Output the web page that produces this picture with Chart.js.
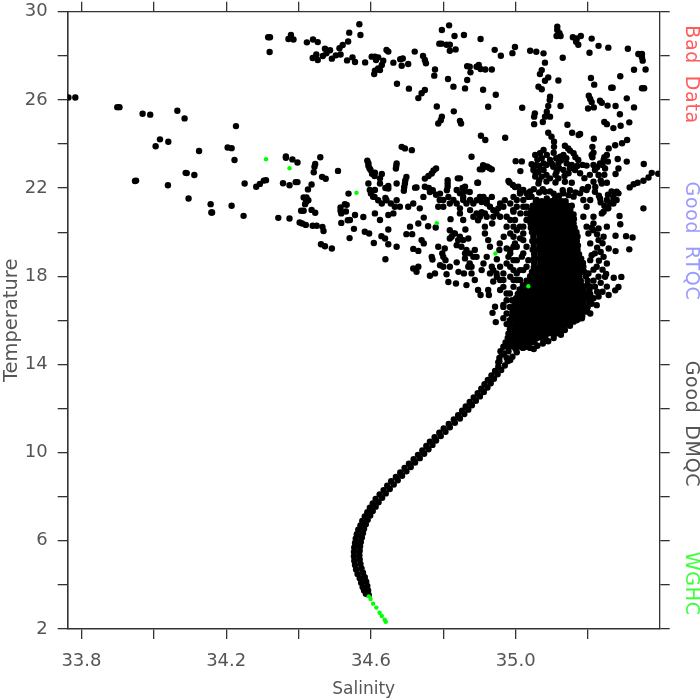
<!DOCTYPE html>
<html>
<head>
<meta charset="utf-8">
<title>Salinity - Temperature</title>
<script src="https://cdn.jsdelivr.net/npm/chart.js@4"></script>
<style>
  html, body { margin: 0; padding: 0; background: #fff; }
  canvas { display: block; }
</style>
</head>
<body>
<canvas id="tsChart" width="700" height="700"></canvas>
<script>
// Tick values and labels
const salinityTicks = [33.8, 34.0, 34.2, 34.4, 34.6, 34.8, 35.0, 35.2];
const salinityLabels = [33.8, 34.2, 34.6, 35.0];
const temperatureTicks = [2, 4, 6, 8, 10, 12, 14, 16, 18, 20, 22, 24, 26, 28, 30];
const temperatureLabels = [2, 6, 10, 14, 18, 22, 26, 30];
const sideLabels = ["Bad Data", "Good RTQC", "Good DMQC", "WGHC"];

// WGHC points [salinity, temperature]
const wghcPoints = [
  [34.310,23.31],[34.375,22.90],[34.560,21.79],[34.782,20.41],[34.944,19.03],[35.035,17.55],
  [34.594,3.48],[34.599,3.36],[34.606,3.15],[34.615,2.97],[34.624,2.74],[34.630,2.59],[34.638,2.42],[34.641,2.33]
];

// Warm, fresh scatter on the left side
const leftScatter = [
  [33.764,26.11],[33.783,26.11],[33.899,25.67],[33.905,25.67],[33.969,25.37],[33.990,25.33],[34.065,25.51],[34.085,25.16],
  [34.227,24.81],[34.005,23.90],[34.017,24.21],[34.040,24.10],[34.125,23.68],[34.204,23.84],[34.215,23.81],[34.223,23.27],
  [33.948,22.32],[33.951,22.34],[34.039,22.13],[34.088,22.69],[34.091,22.68],[34.112,22.59],[34.096,21.53],[34.157,21.27],
  [34.161,20.89],[34.159,20.89],[34.215,21.20],[34.248,20.74],[34.251,22.21],[34.283,22.06],[34.293,22.19],[34.304,22.34],
  [34.310,22.36],[34.344,20.65],[34.375,20.62],[34.357,22.22],[34.375,22.13],[34.392,22.27],[34.397,22.27],[34.365,23.43],
  [34.365,23.37],[34.383,23.30],[34.397,23.16],[34.460,23.40],[34.446,23.09],[34.444,22.97],[34.442,22.72],[34.465,22.51],
  [34.475,22.42],[34.509,22.78],[34.436,22.16],[34.426,21.94],[34.414,21.57],[34.422,21.57],[34.427,21.45],[34.418,21.27],
  [34.421,21.39],[34.407,20.97],[34.414,20.97],[34.436,21.01],[34.446,20.88],[34.403,20.44],[34.410,20.39],[34.420,20.33],
  [34.439,20.29],[34.450,20.29],[34.466,20.24],[34.469,20.05],[34.462,19.45],[34.473,19.36],[34.492,19.26],[34.518,20.42],
  [34.536,20.54],[34.541,19.73],[34.538,21.75],[34.516,21.12],[34.528,21.27],[34.533,21.24],[34.518,20.85],[34.531,20.94],
  [34.516,20.97]
];

// Upper group, above about 24 degrees
const upperScatter = [
  [34.316,28.84],[34.321,28.84],[34.320,28.17],[34.372,28.76],[34.379,28.94],[34.386,28.74],[34.379,28.82],[34.423,28.61],
  [34.440,28.74],[34.453,28.62],[34.439,27.90],[34.449,28.06],[34.453,27.81],[34.473,28.32],[34.487,28.25],[34.467,27.99],
  [34.477,28.11],[34.492,27.87],[34.503,28.02],[34.516,28.06],[34.513,28.34],[34.522,28.49],[34.537,28.65],[34.540,29.05],
  [34.534,27.79],[34.568,29.43],[34.571,28.94],[34.796,29.17],[34.816,29.38],[34.831,28.90],[34.857,28.94],[34.903,28.76],
  [34.789,28.55],[34.795,28.55],[34.809,28.50],[34.818,28.50],[34.818,28.23],[34.834,28.29],[34.942,28.27],[34.959,28.00],
  [34.991,28.12],[34.998,28.40],[35.040,28.23],[35.057,28.18],[35.077,28.11],[35.115,29.32],[35.115,29.17],[35.121,29.02],
  [35.113,28.90],[35.124,28.90],[35.158,28.84],[35.169,28.79],[35.180,28.90],[35.167,28.64],[35.173,28.50],[35.210,28.78],
  [35.229,28.45],[35.256,28.37],[35.310,28.32],[35.204,28.14],[35.339,28.08],[35.349,28.08],[35.349,27.93],[35.351,27.78],
  [35.327,27.37],[35.359,27.38],[35.289,27.07],[35.208,26.99],[35.217,26.69],[35.264,26.55],[35.268,26.55],[35.349,26.53],
  [35.355,26.53],[35.307,26.07],[35.327,25.66],[35.202,26.19],[35.206,26.04],[35.210,25.90],[35.233,25.96],[35.238,25.87],
  [35.254,25.74],[35.276,25.72],[35.288,25.35],[35.200,25.61],[35.216,25.66],[35.314,24.98],[35.290,24.83],[35.270,24.72],
  [35.245,25.00],[35.252,24.90],[35.143,24.87],[35.156,24.51],[35.174,24.41],[35.178,24.45],[35.216,24.24],[35.212,23.87],
  [35.308,24.18],[35.294,24.03],[35.275,23.94],[35.257,23.80],[34.549,27.93],[34.556,27.72],[34.584,27.70],[34.602,27.96],
  [34.611,27.96],[34.620,27.93],[34.614,27.81],[34.634,27.78],[34.630,27.58],[34.620,27.43],[34.611,27.32],[34.609,27.17],
  [34.625,27.35],[34.643,28.26],[34.648,28.19],[34.662,27.69],[34.681,27.84],[34.688,27.88],[34.685,27.55],[34.703,27.63],
  [34.721,28.19],[34.744,27.99],[34.749,27.81],[34.752,27.66],[34.777,27.38],[34.775,27.10],[34.813,26.95],[34.866,26.90],
  [34.860,26.52],[34.828,26.60],[34.910,26.46],[34.945,26.23],[34.866,27.53],[34.873,27.50],[34.875,27.25],[34.892,27.50],
  [34.898,27.58],[34.903,27.40],[34.916,27.38],[34.934,27.38],[34.672,26.73],[34.705,26.51],[34.749,26.45],[34.740,26.30],
  [34.731,26.08],[34.782,25.70],[34.829,25.48],[34.796,25.24],[34.793,25.08],[34.786,24.93],[34.846,25.05],[34.849,24.93],
  [34.924,25.69],[35.018,25.64],[34.904,24.37],[34.916,24.18],[34.971,24.28],[35.081,27.69],[35.130,27.91],[35.072,27.35],
  [35.067,27.17],[35.090,27.02],[35.081,26.87],[35.118,26.88],[35.063,26.60],[35.072,26.48],[35.095,26.14],[35.094,25.99],
  [35.090,25.72],[35.124,25.72],[35.053,25.39],[35.051,25.24],[35.086,25.46],[35.081,25.24],[35.095,25.24],[35.075,25.00],
  [35.051,24.90],[35.090,24.51],[35.099,24.33],[35.106,24.10],[35.106,23.87],[35.136,23.92],[35.145,23.80]
];

// Middle group, salinity 34.55 to 35.0
const middleScatter = [
  [34.685,23.87],[34.694,23.80],[34.713,23.72],[34.590,23.24],[34.593,23.01],[34.599,22.82],[34.611,22.70],[34.630,22.64],
  [34.625,22.44],[34.625,22.21],[34.671,23.12],[34.669,22.89],[34.671,22.21],[34.698,22.50],[34.694,22.21],[34.691,21.88],
  [34.726,22.03],[34.780,22.89],[34.768,22.66],[34.749,22.43],[34.812,22.36],[34.812,22.06],[34.846,22.44],[34.860,22.06],
  [34.896,22.24],[34.910,23.04],[34.901,22.85],[34.934,22.85],[34.922,22.97],[34.878,23.42],[35.000,23.22],[35.017,23.21],
  [35.013,22.77],[34.980,22.32],[34.992,22.14],[34.593,22.21],[34.597,21.91],[34.611,21.91],[34.606,21.61],[34.630,21.30],
  [34.643,21.45],[34.648,21.98],[34.671,21.45],[34.666,21.15],[34.680,21.15],[34.662,20.85],[34.703,21.15],[34.717,21.30],
  [34.735,21.08],[34.745,21.60],[34.749,22.06],[34.763,21.82],[34.791,21.75],[34.810,21.90],[34.786,21.15],[34.814,21.60],
  [34.818,21.30],[34.855,21.60],[34.864,21.30],[34.846,21.08],[34.873,21.82],[34.892,21.45],[34.906,21.37],[34.920,21.30],
  [34.934,21.60],[34.892,20.85],[34.896,20.54],[34.938,21.00],[34.952,21.08],[34.970,21.45],[34.993,21.00],[35.012,21.75],
  [34.579,20.69],[34.556,20.78],[34.542,20.55],[34.611,20.85],[34.625,20.55],[34.648,20.78],[34.708,20.25],[34.698,19.91],
  [34.714,19.91],[34.746,20.66],[34.731,20.39],[34.758,20.27],[34.820,20.59],[34.779,20.21],[34.553,20.15],[34.583,20.02],
  [34.595,19.94],[34.608,19.51],[34.629,19.82],[34.639,19.71],[34.648,20.12],[34.648,19.45],[34.671,19.34],[34.640,18.77],
  [34.717,19.24],[34.731,19.15],[34.740,19.64],[34.746,19.49],[34.717,18.35],[34.731,18.43],[34.726,18.20],[34.768,18.88],
  [34.770,18.76],[34.763,18.02],[34.777,18.13],[34.786,19.34],[34.804,19.26],[34.800,18.88],[34.791,18.50],[34.809,18.09],
  [34.814,17.74],[34.835,17.67],[34.818,18.43],[34.842,18.20],[34.857,18.13],[34.818,20.09],[34.832,19.94],[34.846,19.79],
  [34.837,19.41],[34.818,19.71],[34.869,19.71],[34.861,20.12],[34.864,19.19],[34.860,18.81],[34.887,19.19],[34.892,18.88],
  [34.873,18.58],[34.837,18.63],[34.878,18.13],[34.887,17.83],[34.864,17.60],[34.896,17.38],[34.903,17.15],[34.924,17.38],
  [34.926,17.15],[34.915,20.85],[34.915,20.25],[34.915,19.94],[34.935,20.39],[34.924,19.64],[34.929,19.34],[34.967,19.79],
  [34.956,19.49],[34.955,19.19],[34.920,18.88],[34.911,18.58],[34.948,18.77],[34.934,18.43],[34.906,18.28],[34.957,18.43],
  [34.985,19.19],[34.980,18.88],[34.975,18.58],[34.966,18.13],[34.948,17.98],[34.938,17.76],[34.957,17.38],[34.985,17.98],
  [34.994,17.52],[34.936,16.34],[34.945,15.92],[34.975,15.83],[34.943,16.62],[34.966,16.70],
  [34.837,21.91],[34.846,21.76],[34.855,21.46],[34.874,21.46],[34.883,21.30],[34.874,21.00],[34.883,20.70],[34.901,21.60],
  [34.911,21.60],[34.920,21.46],[34.929,21.15],[34.947,20.85],[34.957,20.70],[34.938,20.70],[34.901,20.70],[34.906,20.90],
  [34.828,19.94],[34.823,19.79],[34.841,19.64],[34.855,19.64],[34.850,19.34],[34.860,19.04],[34.873,19.04],[34.883,18.88],
  [34.869,18.43],[34.878,18.43],[34.797,19.04],[34.806,18.73],[34.800,18.43],[34.929,18.13],[34.938,18.28],[34.947,18.13],
  [34.957,17.83],[34.966,17.52],[34.975,17.22],[34.966,17.83],[34.984,17.22],[34.990,16.91],[34.975,16.91],[34.966,16.61],
  [34.984,16.61],[34.975,16.31],[34.966,16.10],[34.984,16.01],[34.994,19.34],[34.985,19.04],[34.994,18.73],[34.985,18.43],
  [34.994,18.28],[35.003,18.13],[35.012,18.28],[35.003,17.83],[35.012,17.83],[34.994,17.83],[34.975,20.25],[34.985,20.55],
  [34.975,20.70],[34.994,20.25],[35.012,20.25],[35.021,19.94],[35.021,19.64],[34.994,19.79],[35.003,19.34],[35.021,19.04],
  [35.030,18.43],[35.030,20.85],[35.021,21.15],[35.003,21.15],[35.030,21.15],[35.021,21.46],[35.003,21.46],[34.994,21.60],
  [34.985,21.30],[34.957,21.30],[34.966,21.15],[34.920,20.70],[34.855,20.55],[34.846,20.85],[34.837,21.30],[34.828,21.46],
  [34.800,21.46],[34.800,21.15],[34.790,21.46],[34.780,21.70],[34.771,21.90],[34.760,22.00],[34.640,21.55],[34.655,21.30],
  [34.620,21.45],[34.610,21.60],[34.600,21.75],[34.640,22.00],[34.648,22.10],[34.610,22.55],[34.603,22.65],[34.596,22.90],
  [34.593,23.13],[34.670,23.00],[34.695,22.35],[34.692,22.05],[34.722,22.02],[34.759,22.55],[34.773,22.80],[34.812,22.21],
  [34.840,22.44],[34.853,22.00],[34.860,21.85],[34.894,22.24],[34.908,22.85],[34.916,22.98],[34.928,22.90],[34.983,22.25],
  [34.998,22.05]
];

// Points around the dense core
const coreEdges = [
  [35.077,23.73],[35.067,23.58],[35.054,23.50],[35.086,23.50],[35.072,23.35],[35.095,23.27],[35.044,23.08],[35.058,23.05],
  [35.077,23.12],[35.049,22.82],[35.063,22.74],[35.077,22.82],[35.054,22.52],[35.072,22.52],[35.104,22.97],[35.113,22.74],
  [35.123,23.42],[35.132,23.50],[35.118,23.12],[35.141,23.12],[35.155,23.05],[35.160,23.58],[35.173,23.27],[35.132,22.82],
  [35.146,22.67],[35.164,22.82],[35.178,22.67],[35.095,22.44],[35.118,22.44],[35.136,22.29],[35.155,22.24],[35.196,23.02],
  [35.210,23.50],[35.219,22.82],[35.233,23.12],[35.243,23.27],[35.252,23.50],[35.247,22.89],[35.229,22.59],[35.215,22.29],
  [35.238,22.21],[35.252,22.24],[35.219,21.83],[35.196,21.91],[35.178,21.76],[35.132,21.76],[35.146,21.68],[35.160,21.61],
  [35.109,21.53],[35.081,21.83],[35.063,22.21],[35.030,21.76],[35.044,21.61],[35.021,21.91],[35.007,22.06],[35.058,21.46],
  [35.086,21.53],[35.187,21.46],[35.206,21.46],[35.233,21.53],[35.252,21.46],[35.270,21.30],[35.284,21.76],[35.279,21.46],
  [35.256,21.08],[35.243,20.93],[35.215,20.70],[35.196,21.15],[35.187,20.70],[35.196,20.25],[35.201,19.94],[35.215,20.09],
  [35.206,19.49],[35.229,19.64],[35.243,19.79],[35.219,19.04],[35.243,18.88],[35.252,18.58],[35.224,18.43],[35.206,18.73],
  [35.201,18.13],[35.229,17.98],[35.247,17.98],[35.219,17.53],[35.252,17.53],[35.229,17.08],[35.206,17.53],[35.187,18.43],
  [35.224,16.69],[35.206,16.31],[35.183,16.09],[35.160,15.94],[35.136,15.56],[34.994,20.93],[35.013,20.85],[34.998,20.55],
  [35.021,20.25],[35.003,20.09],[35.030,20.55],[35.012,19.72],[34.998,19.49],[35.030,19.34],[35.017,18.89],[35.003,18.73],
  [35.035,18.73],[35.021,18.28],[34.985,19.94],[34.975,19.26],[35.354,23.09],[35.307,23.20],[35.282,23.32],[35.284,22.89],
  [35.276,22.64],[35.315,22.03],[35.326,22.17],[35.337,22.24],[35.353,22.33],[35.367,22.48],[35.376,22.69],[35.394,22.65],
  [35.353,21.08],[35.305,19.82],[35.323,19.76],[35.276,19.84],[35.314,19.22],[35.276,19.14],[35.287,20.73],[35.289,20.36],
  [35.292,17.97],[35.271,17.93],[35.257,19.26],[35.252,20.25],[35.229,20.17],[35.279,21.83],[35.270,21.60],[35.261,21.30],
  [35.252,21.08],[35.238,20.85],[35.284,17.51],[35.275,17.36],[35.257,17.15],
  [35.012,21.85],[35.035,21.60],[35.040,21.85],[35.050,21.95],[35.065,21.80],[35.075,21.95],[35.095,21.85],[35.105,21.75],
  [35.120,21.65],[35.130,21.90],[35.150,21.90],[35.165,21.80],[35.185,21.95],[35.200,22.05],[35.220,22.05],[35.230,21.65],
  [35.255,21.70],[35.265,21.85],[35.270,21.45],[35.245,21.20],[35.235,21.35],[35.215,20.40],[35.210,20.20],[35.225,19.90],
  [35.240,19.50],[35.225,19.30],[35.235,19.10],[35.210,18.95],[35.230,18.70],[35.215,18.30],[35.240,18.30],[35.250,18.10],
  [35.215,17.80],[35.235,17.70],[35.225,17.30],[35.240,17.30],[35.215,17.00],[35.210,16.75],[35.198,16.40],[35.172,16.05],
  [35.150,15.75],[35.125,15.35],[35.105,15.20],[35.090,15.05],[35.075,14.95],[35.060,14.85],
  [35.060,23.30],[35.050,22.95],[35.065,23.00],[35.085,23.05],[35.055,22.65],[35.065,22.35],[35.085,22.60],[35.100,23.10],
  [35.110,22.60],[35.120,22.90],[35.125,23.25],[35.140,23.35],[35.150,22.90],[35.170,23.00],[35.150,23.70],[35.165,23.40],
  [35.185,23.05],[35.190,22.45],[35.205,22.60],[35.215,23.05],[35.225,22.95],[35.240,23.05],[35.245,22.60],[35.235,22.35],
  [35.215,23.60],[35.212,23.40],[35.105,23.60],[35.112,23.35],[35.135,22.55],[35.110,22.25],[35.085,22.30],[35.245,23.40],
  [35.255,23.20]
];

// Dense core: one temperature per row, with the salinities read along it
const coreTemperatures = [
  14.8, 15.0, 15.2, 15.4, 15.6, 15.8, 16.0, 16.2, 16.4, 16.6, 16.8, 17.0, 17.2,
  17.4, 17.6, 17.8, 18.0, 18.2, 18.4, 18.6, 18.8, 19.0, 19.2, 19.4, 19.6,
  19.8, 20.0, 20.2, 20.4, 20.6, 20.8, 21.0, 21.2, 21.4
];
const coreSalinities = [
  [34.966,34.980,34.994,35.007,35.020,35.030],
  [34.972,34.986,34.999,35.013,35.026,35.040,35.052],
  [34.978,34.991,35.005,35.019,35.032,35.046,35.059,35.073,35.082],
  [34.980,34.994,35.008,35.021,35.035,35.048,35.062,35.075,35.089,35.102,35.111],
  [34.984,34.998,35.011,35.025,35.038,35.052,35.066,35.079,35.093,35.106,35.120,35.130],
  [34.986,35.001,35.015,35.028,35.042,35.055,35.069,35.082,35.096,35.110,35.123,35.137,35.150],
  [34.988,35.002,35.016,35.030,35.043,35.057,35.071,35.084,35.098,35.111,35.125,35.139,35.152,35.168],
  [34.990,35.005,35.019,35.033,35.047,35.060,35.074,35.087,35.101,35.115,35.128,35.142,35.155,35.169,35.184],
  [34.991,35.003,35.017,35.031,35.044,35.058,35.071,35.085,35.099,35.112,35.126,35.139,35.153,35.167,35.180,35.191],
  [34.995,35.009,35.023,35.036,35.050,35.063,35.077,35.091,35.104,35.118,35.131,35.145,35.159,35.172,35.186,35.199],
  [34.997,35.011,35.024,35.038,35.052,35.065,35.079,35.092,35.106,35.120,35.133,35.147,35.160,35.174,35.188,35.204],
  [35.001,35.015,35.029,35.042,35.056,35.069,35.083,35.097,35.110,35.124,35.137,35.151,35.165,35.178,35.192,35.205],
  [35.006,35.020,35.033,35.047,35.061,35.074,35.088,35.101,35.115,35.129,35.142,35.156,35.169,35.183,35.197,35.206],
  [35.011,35.025,35.038,35.052,35.065,35.079,35.093,35.106,35.120,35.133,35.147,35.161,35.174,35.188,35.204],
  [35.020,35.034,35.047,35.061,35.074,35.088,35.102,35.115,35.129,35.142,35.156,35.170,35.183,35.199],
  [35.030,35.044,35.057,35.071,35.085,35.098,35.112,35.125,35.139,35.153,35.166,35.180,35.199],
  [35.040,35.053,35.067,35.080,35.094,35.108,35.121,35.135,35.148,35.162,35.176,35.194],
  [35.045,35.059,35.073,35.086,35.100,35.113,35.127,35.141,35.154,35.168,35.181,35.190],
  [35.050,35.064,35.078,35.091,35.105,35.118,35.132,35.146,35.159,35.173,35.185],
  [35.051,35.068,35.082,35.095,35.109,35.122,35.136,35.150,35.163,35.177,35.186],
  [35.050,35.063,35.077,35.091,35.104,35.118,35.131,35.145,35.159,35.172,35.181],
  [35.051,35.068,35.082,35.095,35.109,35.122,35.136,35.150,35.163,35.175],
  [35.047,35.062,35.076,35.089,35.103,35.117,35.130,35.144,35.157,35.171],
  [35.050,35.067,35.081,35.095,35.108,35.122,35.135,35.149,35.163,35.172],
  [35.046,35.060,35.074,35.087,35.101,35.115,35.128,35.142,35.155,35.169],
  [35.049,35.066,35.080,35.094,35.107,35.121,35.134,35.148,35.161,35.171],
  [35.045,35.059,35.072,35.086,35.099,35.113,35.127,35.140,35.154,35.168],
  [35.042,35.056,35.070,35.083,35.097,35.110,35.124,35.138,35.151,35.163],
  [35.041,35.054,35.068,35.081,35.095,35.109,35.122,35.136,35.149,35.160],
  [35.040,35.056,35.070,35.083,35.097,35.110,35.124,35.138,35.151,35.161],
  [35.041,35.054,35.068,35.081,35.095,35.109,35.122,35.136,35.149,35.160],
  [35.043,35.056,35.070,35.083,35.097,35.110,35.124,35.138,35.151],
  [35.047,35.062,35.075,35.089,35.102,35.116,35.130,35.143,35.155],
  [35.056,35.072,35.086,35.099,35.113,35.127,35.138]
];

// Deep water curve, fresh side and salty side of the band
const curveFreshSide = [
  [34.586,3.60],[34.581,3.75],[34.577,3.90],[34.573,4.10],[34.569,4.30],[34.563,4.50],[34.559,4.70],[34.556,4.90],
  [34.554,5.10],[34.553,5.30],[34.553,5.50],[34.554,5.70],[34.556,5.90],[34.558,6.10],[34.561,6.30],[34.565,6.50],
  [34.571,6.70],[34.576,6.90],[34.583,7.10],[34.590,7.30],[34.597,7.50],[34.605,7.70],[34.613,7.90],[34.624,8.10],
  [34.635,8.30],[34.645,8.50],[34.656,8.70],[34.669,8.90],[34.681,9.10],[34.693,9.30],[34.705,9.50],[34.718,9.70],
  [34.730,9.90],[34.742,10.10],[34.753,10.30],[34.763,10.50],[34.776,10.70],[34.789,10.90],[34.801,11.10],[34.815,11.30],
  [34.829,11.50],[34.841,11.70],[34.852,11.90],[34.862,12.10],[34.873,12.30],[34.884,12.50],[34.895,12.70],[34.905,12.90],
  [34.914,13.10],[34.923,13.30],[34.933,13.50],[34.943,13.70],[34.952,13.90],[34.952,14.10],[34.955,14.30],[34.958,14.60]
];
const curveSaltySide = [
  [34.594,3.55],[34.592,3.75],[34.590,3.95],[34.587,4.15],[34.583,4.35],[34.578,4.55],[34.574,4.75],[34.571,4.95],
  [34.569,5.15],[34.568,5.35],[34.569,5.55],[34.570,5.75],[34.572,5.95],[34.575,6.15],[34.578,6.35],[34.581,6.55],
  [34.586,6.75],[34.591,6.95],[34.598,7.15],[34.605,7.35],[34.613,7.55],[34.621,7.75],[34.631,7.95],[34.641,8.15],
  [34.652,8.35],[34.663,8.55],[34.674,8.75],[34.686,8.95],[34.698,9.15],[34.710,9.35],[34.722,9.55],[34.735,9.75],
  [34.747,9.95],[34.759,10.15],[34.770,10.35],[34.780,10.55],[34.793,10.75],[34.806,10.95],[34.818,11.15],[34.832,11.35],
  [34.846,11.55],[34.858,11.75],[34.869,11.95],[34.879,12.15],[34.890,12.35],[34.901,12.55],[34.912,12.75],[34.922,12.95],
  [34.931,13.15],[34.940,13.35],[34.950,13.55],[34.960,13.75],[34.970,13.95],[34.978,14.15],[34.991,14.35],[35.003,14.55],
  [34.968,14.50],[34.980,14.60],[35.000,14.70],[35.020,14.75],[35.040,14.75],[35.050,14.70],
  [34.955,14.15],[34.962,14.45],[34.975,14.30],[34.985,14.20]
];

const axisColor = "#333";
const textColor = "#555";
const sideColors = ["#ff5c5c", "#9a9aff", "#555", "#3cff3c"];
// Centre of each side label along the right edge, in temperature units
const sideCentres = [27.15, 19.6, 11.3, 4.05];

function flattenCore() {
  const points = [];
  coreTemperatures.forEach((temp, i) => {
    coreSalinities[i].forEach(sal => points.push([sal, temp]));
  });
  return points;
}

function toXY(list) {
  return list.map(p => ({ x: p[0], y: p[1] }));
}

function fixedTicks(values) {
  return scale => { scale.ticks = values.map(v => ({ value: v })); };
}

function axisGrid() {
  return { drawOnChartArea: false, drawTicks: true, tickLength: 10, tickColor: axisColor, lineWidth: 1.3 };
}

// Fix the box of a scale so the plot area stays where the reference has it
function fitBox(size, horizontal) {
  return scale => {
    if (horizontal) {
      scale.height = size;
    } else {
      scale.width = size;
    }
    scale.paddingLeft = 0;
    scale.paddingRight = 0;
    scale.paddingTop = 0;
    scale.paddingBottom = 0;
  };
}

// Rotated labels down the right edge
const sideLabelPlugin = {
  id: "sideLabels",
  afterDraw(chart) {
    const ctx = chart.ctx;
    const yScale = chart.scales.y;
    ctx.save();
    ctx.font = "19px 'DejaVu Sans'";
    ctx.letterSpacing = "0.7px";
    ctx.wordSpacing = "5px";
    ctx.textAlign = "center";
    ctx.textBaseline = "middle";
    sideLabels.forEach((label, i) => {
      ctx.save();
      ctx.translate(691, yScale.getPixelForValue(sideCentres[i]));
      ctx.rotate(Math.PI / 2);
      ctx.fillStyle = sideColors[i];
      ctx.fillText(label, 0, 0);
      ctx.restore();
    });
    ctx.restore();
  }
};

const blackPoints = leftScatter.concat(upperScatter, middleScatter, coreEdges, flattenCore(), curveFreshSide, curveSaltySide);

new Chart(document.getElementById("tsChart").getContext("2d"), {
  type: "scatter",
  data: {
    datasets: [
      { label: "WGHC", data: toXY(wghcPoints), backgroundColor: "#00ff00", borderWidth: 0, pointRadius: 2.2, order: 0 },
      { label: "Good DMQC", data: toXY(blackPoints), backgroundColor: "#000", borderWidth: 0, pointRadius: 3.2, order: 1 }
    ]
  },
  options: {
    responsive: false,
    animation: false,
    events: [],
    layout: { padding: 0, autoPadding: false },
    plugins: { legend: { display: false }, tooltip: { enabled: false }, title: { display: false } },
    scales: {
      x: {
        type: "linear", position: "bottom", min: 33.762, max: 35.398,
        afterBuildTicks: fixedTicks(salinityTicks),
        afterFit: fitBox(71, true),
        border: { color: axisColor, width: 1.6 },
        grid: axisGrid(),
        ticks: {
          autoSkip: false, maxRotation: 0, color: textColor, padding: 12, font: { family: "DejaVu Sans", size: 18 },
          callback: v => salinityLabels.includes(v) ? v.toFixed(1) : ""
        },
        title: { display: true, text: "Salinity", color: textColor, font: { family: "DejaVu Sans", size: 17 }, padding: 0 }
      },
      xTop: {
        type: "linear", position: "top", min: 33.762, max: 35.398,
        afterBuildTicks: fixedTicks(salinityTicks),
        afterFit: fitBox(11.7, true),
        border: { color: axisColor, width: 1.3 },
        grid: axisGrid(),
        ticks: { display: false }
      },
      y: {
        type: "linear", position: "left", min: 2, max: 30,
        afterBuildTicks: fixedTicks(temperatureTicks),
        afterFit: fitBox(67.7, false),
        border: { color: axisColor, width: 1.6 },
        grid: axisGrid(),
        ticks: {
          autoSkip: false, color: textColor, padding: 10, font: { family: "DejaVu Sans", size: 18 },
          callback: v => temperatureLabels.includes(v) ? String(v) : ""
        },
        title: { display: true, text: "Temperature", color: textColor, font: { family: "DejaVu Sans", size: 19.5 }, padding: 0 }
      },
      yRight: {
        type: "linear", position: "right", min: 2, max: 30,
        afterBuildTicks: fixedTicks(temperatureTicks),
        afterFit: fitBox(40.3, false),
        border: { color: axisColor, width: 1.3 },
        grid: axisGrid(),
        ticks: { display: false }
      }
    }
  },
  plugins: [sideLabelPlugin]
});
</script>
</body>
</html>
